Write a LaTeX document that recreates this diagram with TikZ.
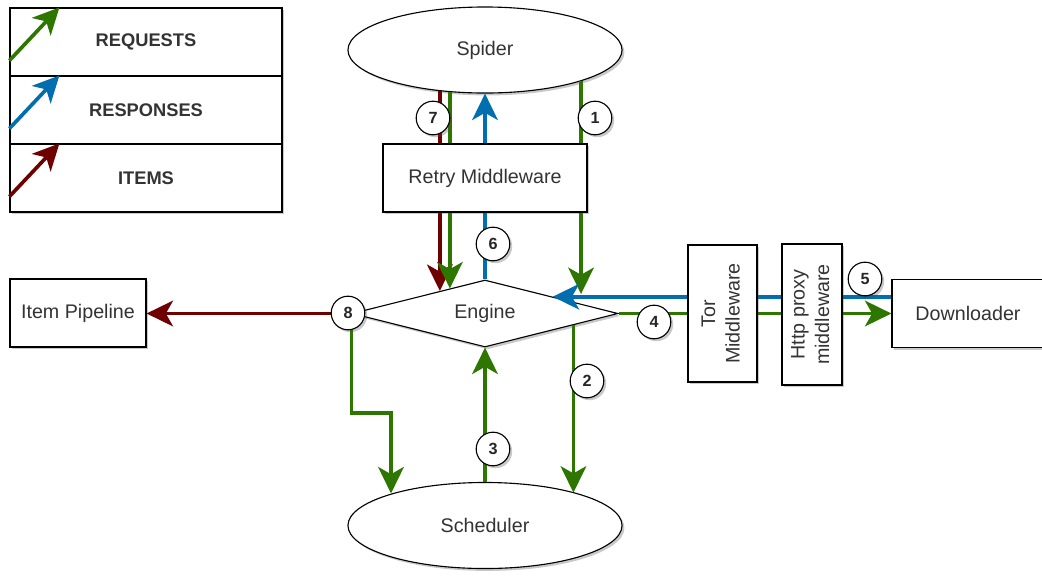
\documentclass[tikz,border=0pt]{standalone}
\usepackage{fontspec}
\setmainfont{Liberation Sans}
\usetikzlibrary{arrows.meta,shapes.geometric,shadows,calc}

\definecolor{reqgreen}{HTML}{2D7600}
\definecolor{respblue}{HTML}{006EAF}
\definecolor{itemred}{HTML}{6F0000}
\definecolor{textgray}{HTML}{333333}

\tikzset{
  shade/.style={drop shadow={shadow xshift=0.06cm,shadow yshift=-0.06cm,opacity=0.3,fill=black!70}},
  box/.style={draw,fill=white,line width=0.8pt,shade,text=textgray,inner sep=0pt,
    font=\fontsize{14}{17.5}\selectfont},
  oval/.style={box,ellipse,minimum width=6.85cm,minimum height=2.15cm},
  legrow/.style={box,minimum width=6.8cm,minimum height=1.7cm,font=\bfseries\fontsize{13}{15}\selectfont},
  num/.style={circle,draw,fill=white,line width=0.8pt,shade,minimum size=0.84cm,inner sep=0pt,
    text=black!85,font=\bfseries\fontsize{11.5}{13}\selectfont},
  flow/.style={line width=2.6pt,-{Stealth[length=0.66cm,width=0.64cm,inset=0.18cm]}},
  req/.style={flow,reqgreen},
  resp/.style={flow,respblue},
  item/.style={flow,itemred}
}

\begin{document}
\begin{tikzpicture}[x=0.025cm,y=-0.025cm]
    \useasboundingbox (0,0) rectangle (1042,575);

    % legend
    \node[legrow] (legreq)  at (146,42)  {REQUESTS};
    \node[legrow] (legresp) at (146,110) {RESPONSES};
    \node[legrow] (legitem) at (146,178) {ITEMS};
    \draw[req]  ([yshift=0.4cm]legreq.south west)  -- ([xshift=1.25cm]legreq.north west);
    \draw[resp] ([yshift=0.4cm]legresp.south west) -- ([xshift=1.25cm]legresp.north west);
    \draw[item] ([yshift=0.4cm]legitem.south west) -- ([xshift=1.25cm]legitem.north west);

    % main parts
    \node[oval] (spider) at (485,50) {Spider};
    \node[box,diamond,shape aspect=4,minimum width=6.65cm,minimum height=1.675cm] (engine) at (485,313.5) {Engine};
    \node[oval] (sched) at (485,525.5) {Scheduler};
    \node[box,minimum width=3.4cm,minimum height=1.7cm] (pipe) at (78,313) {Item Pipeline};
    \node[box,minimum width=3.8cm,minimum height=1.7cm] (down) at (968,313.5) {Downloader};

    \coordinate (in1) at (582,294);
    \coordinate (out2) at ($(engine.east)!0.338!(engine.south)$);
    \coordinate (in5) at ($(engine.north)!0.507!(engine.east)$);
    \coordinate (in7r) at ($(engine.west)!0.662!(engine.north)$);
    \coordinate (in7g) at ($(engine.west)!0.737!(engine.north)$);
    \coordinate (bend8) at (391,413);

    \draw[req]  (spider.342.6) -- (spider.342.6 |- in1);
    \draw[req]  (out2) -- (out2 |- sched.20.5);
    \draw[req]  (sched.north) -- (engine.south);
    \draw[req]  (engine.east) -- (down.west);
    \draw[resp] (down.west |- in5) -- (in5);
    \draw[resp] (engine.north) -- (spider.south);
    \draw[item] (in7r |- spider.222) -- (in7r);
    \draw[req]  (in7g |- spider.229.9) -- (in7g);
    \draw[item] (engine.west) -- (engine.west -| pipe.east);
    \draw[req]  (engine.west) |- (bend8) -- (bend8 |- sched.161.6);

    % middlewares over the lines
    \node[box,minimum width=5.1cm,minimum height=1.7cm] (retry) at (485,178) {Retry Middleware};
    \node[box,minimum width=1.725cm,minimum height=3.425cm] (tor) at (722.5,313.5)
        {\rotatebox{90}{\begin{tabular}{@{}c@{}}Tor\\Middleware\end{tabular}}};
    \node[box,minimum width=1.5cm,minimum height=3.525cm] (proxy) at (812,314.5)
        {\rotatebox{90}{\begin{tabular}{@{}c@{}}Http proxy\\middleware\end{tabular}}};

    % step numbers
    \node[num] (n1) at (595,118) {1};
    \node[num] (n2) at (587,381) {2};
    \node[num] (n3) at (493,449) {3};
    \node[num] (n4) at (654,322) {4};
    \node[num] (n5) at (865,279) {5};
    \node[num] (n6) at (493,244) {6};
    \node[num] (n7) at (433,118) {7};
    \node[num] (n8) at (348,313) {8};
\end{tikzpicture}
\end{document}
